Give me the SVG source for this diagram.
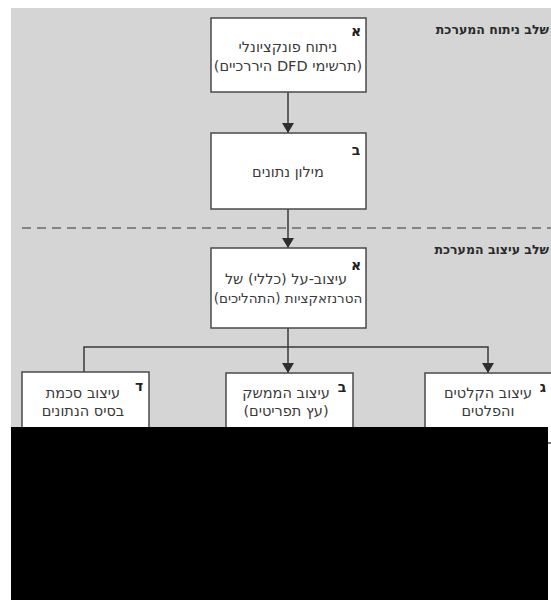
<svg xmlns="http://www.w3.org/2000/svg" width="551" height="600" viewBox="0 0 551 600">
  <style>
    .box { fill: #ffffff; stroke: #4a4a4a; stroke-width: 1.5; }
    .conn { fill: none; stroke: #3a3a3a; stroke-width: 1.5; }
    .dash { fill: none; stroke: #6a6a6a; stroke-width: 1.5; stroke-dasharray: 9 6; }
    .t { font-family: "DejaVu Sans", "Liberation Sans", sans-serif; font-size: 14.5px; fill: #3a3a3a; text-anchor: middle; direction: rtl; }
    .t.narrow { font-size: 13.5px; }
    .key { font-family: "DejaVu Sans", "Liberation Sans", sans-serif; font-size: 14px; font-weight: bold; fill: #222; text-anchor: middle; }
    /* in rtl text, "start" is the right-hand end */
    .phase { font-family: "DejaVu Sans", "Liberation Sans", sans-serif; font-size: 12.5px; font-weight: bold; fill: #2a2a2a; text-anchor: start; direction: rtl; }
  </style>
  <defs>
    <marker id="arrow" viewBox="0 0 10 12" refX="10" refY="6" markerWidth="10" markerHeight="12" markerUnits="userSpaceOnUse" orient="auto">
      <path d="M0,0 L10,6 L0,12 Z" fill="#2e2e2e"/>
    </marker>
  </defs>

  <!-- page -->
  <rect x="0" y="0" width="551" height="600" fill="#ffffff"/>
  <rect x="11" y="8" width="540" height="420" fill="#d5d5d5"/>

  <!-- phase labels -->
  <text class="phase" x="549" y="34">שלב ניתוח המערכת</text>
  <text class="phase" x="549" y="254">שלב עיצוב המערכת</text>

  <!-- phase separator -->
  <line class="dash" x1="22" y1="228" x2="551" y2="228"/>

  <g id="connectors">
    <line class="conn" x1="288" y1="92" x2="288" y2="133" marker-end="url(#arrow)"/>
    <line class="conn" x1="288" y1="209" x2="288" y2="248" marker-end="url(#arrow)"/>
    <line class="conn" x1="288" y1="328" x2="288" y2="373" marker-end="url(#arrow)"/>
    <polyline class="conn" points="84,372 84,347 488,347 488,373" marker-end="url(#arrow)"/>
  </g>

  <g id="node-a-analysis">
    <rect class="box" x="211" y="18" width="155" height="74"/>
    <text class="key" x="356" y="36">א</text>
    <text class="t" x="288" y="52">ניתוח פונקציונלי</text>
    <text class="t" x="288" y="71">(תרשימי DFD היררכיים)</text>
  </g>

  <g id="node-b-dictionary">
    <rect class="box" x="211" y="133" width="155" height="76"/>
    <text class="key" x="356" y="155">ב</text>
    <text class="t" x="288" y="177">מילון נתונים</text>
  </g>

  <g id="node-a-design">
    <rect class="box" x="211" y="248" width="155" height="80"/>
    <text class="key" x="356" y="270">א</text>
    <text class="t" x="286" y="284">עיצוב-על (כללי) של</text>
    <text class="t narrow" x="288" y="303">הטרנזאקציות (התהליכים)</text>
  </g>

  <g id="node-d-schema">
    <rect class="box" x="22" y="372" width="127" height="70"/>
    <text class="key" x="139" y="391">ד</text>
    <text class="t" x="83" y="398">עיצוב סכמת</text>
    <text class="t" x="83" y="416">בסיס הנתונים</text>
  </g>

  <g id="node-b-interface">
    <rect class="box" x="226" y="373" width="127" height="70"/>
    <text class="key" x="342" y="392">ב</text>
    <text class="t" x="286" y="398">עיצוב הממשק</text>
    <text class="t" x="286" y="416">(עץ תפריטים)</text>
  </g>

  <g id="node-g-io">
    <rect class="box" x="425" y="373" width="140" height="70"/>
    <text class="key" x="543" y="392">ג</text>
    <text class="t" x="488" y="398">עיצוב הקלטים</text>
    <text class="t" x="488" y="416">והפלטים</text>
  </g>

  <!-- masked lower area -->
  <rect x="11" y="427" width="537" height="173" fill="#000000"/>
</svg>
